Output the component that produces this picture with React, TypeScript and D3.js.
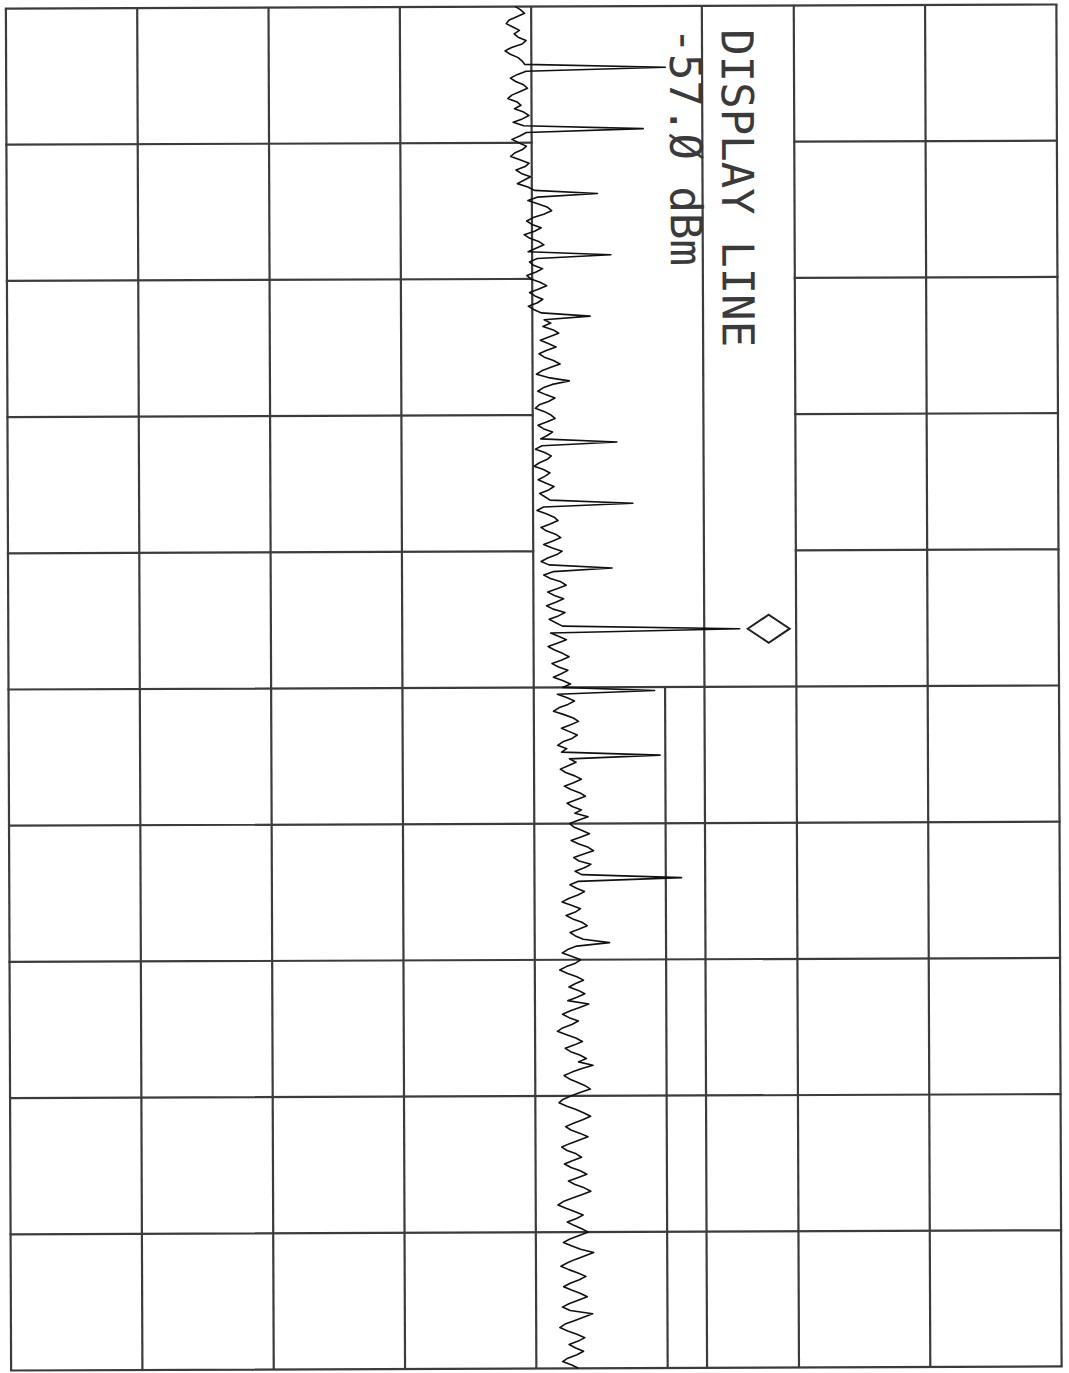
import { useEffect, useRef } from 'react';
import * as d3 from 'd3';

// amplitude graticule (dBm), 10 dB/div, ref level -30 dBm at the right edge
const ampGrid = [-110, -100, -90, -80, -70, -60, -50, -40, -30];
// frequency graticule, in trace points (401 point sweep, 10 divisions)
const freqGrid = [0, 40, 80, 120, 160, 200, 240, 280, 320, 360, 400];
const displayLine = -57.0;
const markerIndex = 183;
const labels = ['DISPLAY LINE', '-57.Ø dBm'];

// trace, dBm per sweep point
const trace = [
  -71.2, -70.8, -70.5, -71.1, -71.7, -71.9, -71.4, -70.9, -71.3, -71.0, -70.4, -70.7, -71.5, -72.0, -71.6, -71.0, -70.7, -70.5, -59.8, -70.4,
  -71.1, -71.6, -71.2, -70.6, -70.3, -70.9, -71.5, -71.8, -71.1, -70.8, -71.3, -70.6, -70.2, -70.7, -71.4, -70.6, -61.5, -70.4, -70.9, -71.5,
  -71.0, -70.4, -70.7, -71.3, -71.6, -70.9, -70.2, -70.5, -71.2, -70.8, -70.1, -70.6, -71.1, -70.3, -69.8, -65.0, -69.6, -70.3, -69.5, -68.8,
  -68.5, -69.1, -69.9, -70.4, -70.0, -69.3, -69.8, -70.6, -70.2, -69.5, -69.1, -69.7, -70.3, -64.0, -69.6, -70.2, -69.9, -69.2, -69.7, -70.4,
  -70.1, -69.4, -68.9, -69.5, -70.2, -69.8, -69.2, -69.6, -70.3, -69.9, -69.3, -65.6, -69.1, -68.6, -69.2, -68.4, -68.0, -68.7, -69.4, -68.8,
  -68.2, -68.9, -69.5, -69.1, -68.4, -67.9, -68.6, -69.3, -69.7, -68.8, -67.2, -68.5, -69.2, -69.6, -69.0, -68.3, -68.8, -69.5, -69.8, -69.1,
  -68.6, -68.3, -68.9, -69.6, -69.2, -68.5, -68.9, -69.4, -63.6, -69.3, -69.8, -69.1, -68.6, -68.9, -69.5, -69.9, -69.2, -68.7, -69.1, -69.6,
  -69.0, -68.4, -68.8, -69.5, -69.1, -68.7, -62.4, -69.2, -69.7, -69.0, -68.4, -68.1, -68.7, -69.4, -69.0, -68.3, -67.9, -68.5, -69.2, -68.6,
  -67.8, -68.2, -68.9, -69.4, -68.8, -64.0, -68.5, -69.2, -68.7, -67.9, -67.5, -68.2, -68.9, -68.4, -67.7, -68.3, -69.0, -68.5, -67.6, -68.1,
  -68.8, -68.3, -67.8, -54.3, -68.7, -68.1, -67.5, -68.2, -68.9, -68.4, -67.8, -67.3, -67.9, -68.6, -68.1, -67.4, -67.9, -68.5, -67.8, -67.2,
  -67.8, -60.8, -68.2, -67.5, -66.9, -67.4, -68.1, -68.5, -67.7, -67.0, -66.6, -67.2, -67.9, -67.3, -66.7, -67.1, -67.8, -68.2, -67.5, -67.9,
  -60.4, -67.3, -66.8, -67.4, -68.0, -67.6, -66.9, -66.4, -67.0, -67.7, -67.2, -66.5, -66.1, -66.8, -67.5, -67.1, -66.4, -66.9, -65.9, -66.6,
  -67.3, -67.0, -66.4, -65.8, -66.5, -67.2, -66.6, -65.9, -65.5, -66.3, -67.0, -66.6, -65.7, -66.2, -66.9, -66.4, -58.8, -66.7, -67.3, -66.8,
  -66.2, -66.7, -67.4, -67.9, -67.2, -66.5, -66.9, -67.6, -67.1, -66.4, -66.0, -66.6, -67.3, -66.9, -66.3, -64.3, -66.8, -67.5, -67.9, -67.2,
  -66.5, -66.9, -67.6, -68.1, -67.5, -66.8, -66.3, -66.9, -67.4, -66.7, -66.2, -66.8, -67.5, -65.9, -66.6, -67.3, -67.9, -67.4, -66.7, -67.2,
  -67.9, -68.3, -67.6, -66.9, -66.4, -67.0, -67.7, -67.3, -66.6, -66.1, -66.7, -65.6, -66.5, -67.2, -67.8, -67.4, -66.8, -66.2, -65.8, -66.6,
  -67.3, -67.9, -68.2, -67.6, -66.9, -66.3, -65.8, -66.4, -67.1, -67.7, -67.3, -66.6, -66.0, -66.7, -67.4, -68.0, -67.6, -66.9, -66.5, -67.2,
  -67.8, -67.3, -66.6, -66.1, -66.8, -67.5, -67.0, -66.3, -65.8, -66.5, -67.2, -67.9, -68.3, -67.7, -67.0, -66.4, -66.9, -67.6, -67.1, -66.5,
  -66.0, -66.7, -67.4, -67.9, -67.3, -66.6, -65.6, -66.3, -67.0, -67.6, -68.1, -67.5, -66.8, -66.2, -66.7, -67.4, -67.9, -67.3, -66.6, -66.1,
  -66.8, -67.5, -68.0, -67.4, -65.7, -66.4, -67.1, -67.8, -68.2, -67.6, -66.9, -66.3, -66.8, -67.5, -67.0, -66.4, -66.9, -67.6, -68.0, -67.3,
  -66.8,
];

const W = 1069;
const H = 1373;
const plot = { left: 8.5, right: 1059, top: 6.5, bottom: 1368.5 };
const gridColor = '#3c3c3c';

const App = () => {
  const svgRef = useRef<SVGSVGElement>(null);

  useEffect(() => {
    const svg = d3.select(svgRef.current);
    svg.selectAll('*').remove();

    const x = d3
      .scaleLinear()
      .domain([ampGrid[0], ampGrid[ampGrid.length - 1]])
      .range([plot.left, plot.right]);
    const y = d3
      .scaleLinear()
      .domain([freqGrid[0], freqGrid[freqGrid.length - 1]])
      .range([plot.top, plot.bottom]);

    svg.append('rect').attr('width', W).attr('height', H).attr('fill', '#fff');

    // the printout sits a touch askew on the page
    const g = svg.append('g').attr('transform', 'rotate(-0.22 534 688)');

    // annotation block in the upper half: no graticule between -70 and -50 dBm
    const blockEnd = freqGrid[5];
    const blockL = -70;
    const blockR = -50;

    g.selectAll('.vgrid')
      .data(ampGrid)
      .join('line')
      .attr('class', 'vgrid')
      .attr('x1', (d) => x(d))
      .attr('x2', (d) => x(d))
      .attr('y1', (d) => (d > blockL && d < blockR ? y(blockEnd) : plot.top))
      .attr('y2', plot.bottom)
      .attr('stroke', gridColor)
      .attr('stroke-width', 2.2);

    const hSegs = freqGrid.flatMap((f) =>
      f > freqGrid[0] && f < blockEnd
        ? [
            [f, ampGrid[0], blockL],
            [f, blockR, ampGrid[ampGrid.length - 1]],
          ]
        : [[f, ampGrid[0], ampGrid[ampGrid.length - 1]]]
    );
    g.selectAll('.hgrid')
      .data(hSegs)
      .join('line')
      .attr('class', 'hgrid')
      .attr('x1', (d) => x(d[1]))
      .attr('x2', (d) => x(d[2]))
      .attr('y1', (d) => y(d[0]))
      .attr('y2', (d) => y(d[0]))
      .attr('stroke', gridColor)
      .attr('stroke-width', 2.2)
      .attr('stroke-linecap', 'square');

    // display line
    g.append('line')
      .attr('x1', x(displayLine))
      .attr('x2', x(displayLine))
      .attr('y1', plot.top)
      .attr('y2', plot.bottom)
      .attr('stroke', gridColor)
      .attr('stroke-width', 2.2);

    g.selectAll('.label')
      .data(labels)
      .join('text')
      .attr('class', 'label')
      .attr('transform', (d, i) =>
        i === 0 ? 'translate(724,30) rotate(90)' : `translate(${x(displayLine) - 32},28) rotate(90)`
      )
      .attr('font-family', "'DejaVu Sans Mono', monospace")
      .attr('font-size', 44)
      .attr('fill', '#3a3a3a')
      .text((d) => d);

    const line = d3
      .line<number>()
      .x((d) => x(d))
      .y((d, i) => y(i));

    g.append('path')
      .datum(trace)
      .attr('d', line)
      .attr('fill', 'none')
      .attr('stroke', '#111')
      .attr('stroke-width', 1.6)
      .attr('stroke-linejoin', 'round');

    // marker diamond beside the peak
    const mx = x(trace[markerIndex]) + 29;
    const my = y(markerIndex);
    g.append('path')
      .attr('d', `M${mx - 21},${my}L${mx},${my - 14}L${mx + 21},${my}L${mx},${my + 14}Z`)
      .attr('fill', '#fff')
      .attr('stroke', '#222')
      .attr('stroke-width', 2);
  }, []);

  return (
    <svg
      ref={svgRef}
      width={W}
      height={H}
      style={{ position: 'absolute', left: 0, top: 0, display: 'block' }}
    />
  );
};

export default App;
